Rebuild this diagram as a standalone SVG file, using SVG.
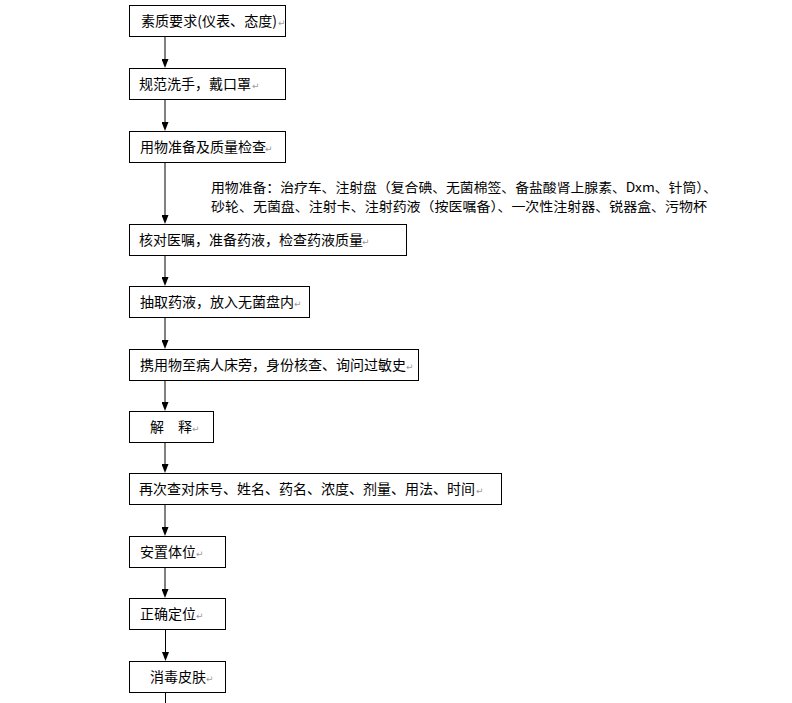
<svg xmlns="http://www.w3.org/2000/svg" width="792" height="703" viewBox="0 0 792 703">
<style>
.box{fill:#fff;stroke:#000;stroke-width:1}
.t{font-family:"Noto Sans CJK SC","Noto Sans",sans-serif;font-size:14px;fill:#000}
.n{font-family:"Noto Sans CJK SC","Noto Sans",sans-serif;font-size:13px;fill:#000}
.pm{font-family:"DejaVu Sans",sans-serif;font-size:9px;fill:#9a9a9a}
.c{stroke:#808080;stroke-width:2;fill:none}
.c2{stroke:#000;stroke-width:1;fill:none}
</style>
<defs>
<marker id="ah" viewBox="0 0 9 7" refX="5" refY="3.5" markerWidth="9" markerHeight="7" markerUnits="userSpaceOnUse" orient="auto">
<path d="M0,0 L9,3.5 L0,7 z" fill="#000"/>
</marker>
</defs>
<rect width="792" height="703" fill="#fff"/>
<g id="connectors">
<line class="c" x1="165" y1="36" x2="165" y2="64" marker-end="url(#ah)"/>
<line class="c" x1="165" y1="99" x2="165" y2="127" marker-end="url(#ah)"/>
<line class="c" x1="165" y1="162" x2="165" y2="220" marker-end="url(#ah)"/>
<line class="c" x1="165" y1="255" x2="165" y2="282" marker-end="url(#ah)"/>
<line class="c" x1="165" y1="317" x2="165" y2="345" marker-end="url(#ah)"/>
<line class="c" x1="165" y1="380" x2="165" y2="407" marker-end="url(#ah)"/>
<line class="c" x1="165" y1="442" x2="165" y2="469" marker-end="url(#ah)"/>
<line class="c" x1="165" y1="504" x2="165" y2="532" marker-end="url(#ah)"/>
<line class="c" x1="165" y1="567" x2="165" y2="594" marker-end="url(#ah)"/>
<line class="c2" x1="165.5" y1="629" x2="165.5" y2="657" marker-end="url(#ah)"/>
<line class="c2" x1="165.5" y1="692" x2="165.5" y2="703"/>
</g>
<g id="n1">
<rect class="box" x="129.5" y="5.5" width="156" height="31"/>
<text class="t" x="141" y="26" textLength="136" lengthAdjust="spacingAndGlyphs">素质要求(仪表、态度)</text>
<text class="pm" x="278" y="25.5">↵</text>
</g>
<g id="n2">
<rect class="box" x="129.5" y="68.5" width="156" height="31"/>
<text class="t" x="139" y="89">规范洗手，戴口罩</text>
<text class="pm" x="252" y="88.5">↵</text>
</g>
<g id="n3">
<rect class="box" x="129.5" y="131.5" width="156" height="31"/>
<text class="t" x="140" y="152">用物准备及质量检查</text>
<text class="pm" x="265" y="151.5">↵</text>
</g>
<g id="note">
<text class="n" x="211" y="192" textLength="506" lengthAdjust="spacingAndGlyphs">用物准备：治疗车、注射盘（复合碘、无菌棉签、备盐酸肾上腺素、Dxm、针筒）、</text>
<text class="n" x="211" y="211" textLength="496" lengthAdjust="spacingAndGlyphs">砂轮、无菌盘、注射卡、注射药液（按医嘱备）、一次性注射器、锐器盒、污物杯</text>
</g>
<g id="n4">
<rect class="box" x="129.5" y="224.5" width="277" height="31"/>
<text class="t" x="139" y="245">核对医嘱，准备药液，检查药液质量</text>
<text class="pm" x="362" y="244.5">↵</text>
</g>
<g id="n5">
<rect class="box" x="129.5" y="286.5" width="180" height="31"/>
<text class="t" x="140" y="307">抽取药液，放入无菌盘内</text>
<text class="pm" x="294" y="306.5">↵</text>
</g>
<g id="n6">
<rect class="box" x="129.5" y="349.5" width="289" height="31"/>
<text class="t" x="140" y="370">携用物至病人床旁，身份核查、询问过敏史</text>
<text class="pm" x="406" y="369.5">↵</text>
</g>
<g id="n7">
<rect class="box" x="129.5" y="411.5" width="84" height="31"/>
<text class="t" x="150" y="432">解　释</text>
<text class="pm" x="192" y="431.5">↵</text>
</g>
<g id="n8">
<rect class="box" x="129.5" y="473.5" width="372" height="31"/>
<text class="t" x="139" y="494">再次查对床号、姓名、药名、浓度、剂量、用法、时间</text>
<text class="pm" x="476" y="493.5">↵</text>
</g>
<g id="n9">
<rect class="box" x="129.5" y="536.5" width="96" height="31"/>
<text class="t" x="140" y="557">安置体位</text>
<text class="pm" x="196" y="556.5">↵</text>
</g>
<g id="n10">
<rect class="box" x="129.5" y="598.5" width="96" height="31"/>
<text class="t" x="140" y="619">正确定位</text>
<text class="pm" x="196" y="618.5">↵</text>
</g>
<g id="n11">
<rect class="box" x="129.5" y="661.5" width="96" height="31"/>
<text class="t" x="150" y="682">消毒皮肤</text>
<text class="pm" x="206" y="681.5">↵</text>
</g>
</svg>
